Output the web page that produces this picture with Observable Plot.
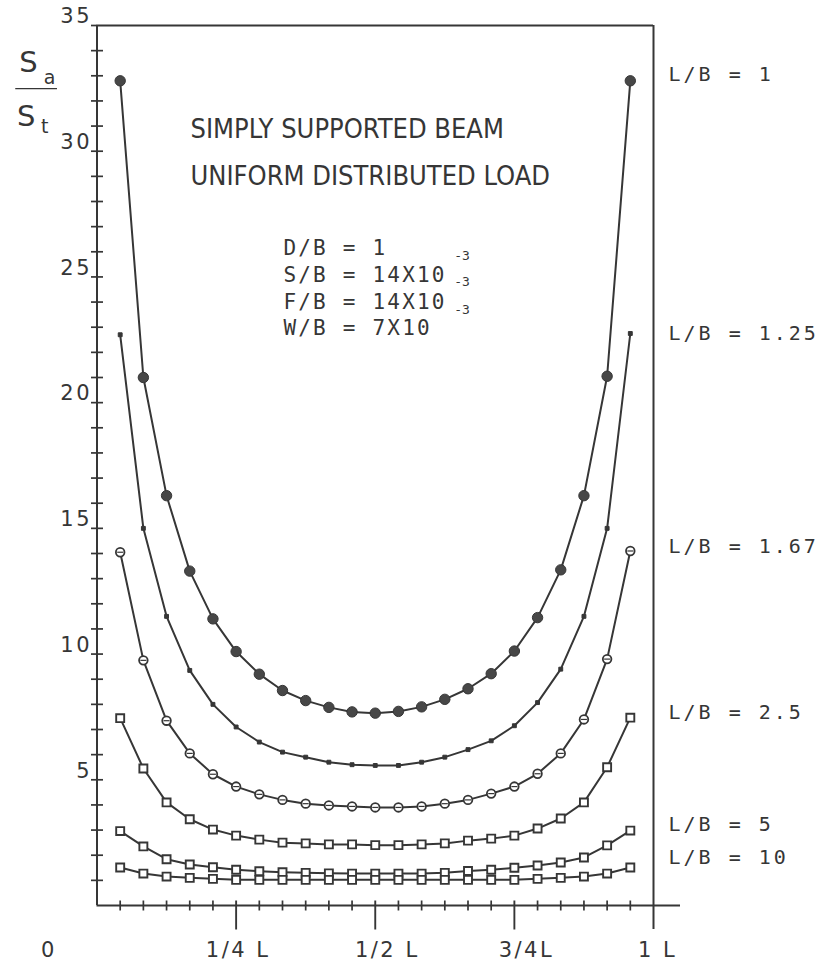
<!DOCTYPE html>
<html>
<head>
<meta charset="utf-8">
<script src="https://cdn.jsdelivr.net/npm/d3@7"></script>
<script src="https://cdn.jsdelivr.net/npm/@observablehq/plot@0.6"></script>
<style>
  html, body { margin: 0; padding: 0; background: #ffffff; }
  #chart svg { display: block; }
</style>
</head>
<body>
<div id="chart"></div>
<script>
// ---- data ----
// stations along the span, in twenty-fourths of L
const stations = [1, 2, 3, 4, 5, 6, 7, 8, 9, 10, 11, 12, 13, 14, 15, 16, 17, 18, 19, 20, 21, 22, 23];
const seriesNames = ["L/B = 1", "L/B = 1.25", "L/B = 1.67", "L/B = 2.5", "L/B = 5", "L/B = 10"];
const lb1   = [32.8, 21.0, 16.3, 13.3, 11.4, 10.1, 9.2, 8.55, 8.15, 7.88, 7.7, 7.65, 7.72, 7.9, 8.2, 8.62, 9.22, 10.12, 11.45, 13.35, 16.3, 21.05, 32.8];
const lb125 = [22.7, 15.0, 11.5, 9.35, 8.0, 7.1, 6.5, 6.1, 5.9, 5.7, 5.6, 5.57, 5.57, 5.7, 5.9, 6.2, 6.55, 7.15, 8.07, 9.4, 11.5, 15.0, 22.75];
const lb167 = [14.05, 9.75, 7.35, 6.05, 5.22, 4.73, 4.42, 4.2, 4.05, 3.98, 3.94, 3.9, 3.9, 3.94, 4.05, 4.2, 4.45, 4.73, 5.24, 6.05, 7.4, 9.8, 14.1];
const lb25  = [7.45, 5.45, 4.1, 3.43, 3.02, 2.78, 2.62, 2.5, 2.47, 2.43, 2.43, 2.4, 2.4, 2.43, 2.47, 2.58, 2.66, 2.78, 3.06, 3.46, 4.1, 5.5, 7.47];
const lb5   = [2.96, 2.35, 1.84, 1.63, 1.52, 1.42, 1.36, 1.32, 1.3, 1.28, 1.27, 1.27, 1.27, 1.27, 1.3, 1.37, 1.42, 1.5, 1.59, 1.71, 1.91, 2.39, 2.98];
const lb10  = [1.51, 1.27, 1.15, 1.1, 1.06, 1.02, 1.02, 1.02, 1.02, 1.02, 1.02, 1.02, 1.02, 1.02, 1.02, 1.02, 1.02, 1.02, 1.06, 1.1, 1.15, 1.27, 1.51];
const seriesValues = [lb1, lb125, lb167, lb25, lb5, lb10];

const yMinorTicks = [1, 2, 3, 4, 5, 6, 7, 8, 9, 10, 11, 12, 13, 14, 15, 16, 17, 18, 19, 20, 21, 22, 23, 24, 25, 26, 27, 28, 29, 30, 31, 32, 33, 34];
const yLabelTicks = [5, 10, 15, 20, 25, 30, 35];
const xMinorTwentyFourths = [1, 2, 3, 4, 5, 7, 8, 9, 10, 11, 13, 14, 15, 16, 17, 19, 20, 21, 22, 23];
const xMajorTicks = [0.25, 0.5, 0.75];
const xLabelTicks = [0, 0.25, 0.5, 0.75, 1];
const xLabels = ["0", "1/4 L", "1/2 L", "3/4L", "1 L"];
const titleLines = ["SIMPLY SUPPORTED BEAM", "UNIFORM DISTRIBUTED LOAD"];
const paramLines = ["D/B = 1", "S/B = 14X10", "F/B = 14X10", "W/B = 7X10"];
const exponent = "-3";

// ---- table for Plot ----
const rows = [];
seriesNames.forEach((name, s) => {
  seriesValues[s].forEach((v, i) => rows.push({series: name, s, x: stations[i] / 24, y: v}));
});
const bySeries = (s) => rows.filter(d => d.s === s);

const ink = "#363636";
const sans = "'DejaVu Sans Condensed','Liberation Sans Narrow','Liberation Sans',sans-serif";
const axisFont = "'DejaVu Sans','Liberation Sans',sans-serif";
const mono = "'DejaVu Sans Mono','Liberation Mono',monospace";

// tick glyphs (axis ticks that cross the axis line)
const dashH = {draw(ctx) { ctx.moveTo(-6, 0); ctx.lineTo(6, 0); }};
const dashV = {draw(ctx) { ctx.moveTo(0, -5); ctx.lineTo(0, 5); }};
const dashVLong = {draw(ctx) { ctx.moveTo(0, -5); ctx.lineTo(0, 24); }};
const dashLeft = {draw(ctx) { ctx.moveTo(-6, 0); ctx.lineTo(0, 0); }};
const bar = {draw(ctx) { ctx.moveTo(-3, 0); ctx.lineTo(3, 0); }};

const labelNudge = [-6, 0, -4, -5, -6, -10];
const xLabelNudge = [-48, 2, 12, 12, 4];

const marks = [
  // frame & axes lines
  Plot.ruleX([0], {stroke: ink, strokeWidth: 2}),
  Plot.ruleY([35], {stroke: ink, strokeWidth: 2}),
  Plot.ruleX([1], {stroke: ink, strokeWidth: 2, insetBottom: -24}),
  Plot.ruleY([0], {stroke: ink, strokeWidth: 2, insetRight: -27}),
  // y ticks crossing the axis
  Plot.dot(yMinorTicks, {x: 0, y: d => d, symbol: dashH, fill: "none", stroke: ink, strokeWidth: 1.7}),
  Plot.dot([35], {x: 0, y: d => d, symbol: dashLeft, fill: "none", stroke: ink, strokeWidth: 1.7}),
  Plot.text(yLabelTicks, {x: 0, y: d => d, text: d => String(d), textAnchor: "end", dx: -5, dy: -9, fontSize: 21, fontFamily: axisFont, fill: ink}),
  // x ticks
  Plot.dot(xMinorTwentyFourths.map(k => k / 24), {x: d => d, y: 0, symbol: dashV, fill: "none", stroke: ink, strokeWidth: 1.7}),
  Plot.dot(xMajorTicks, {x: d => d, y: 0, symbol: dashVLong, fill: "none", stroke: ink, strokeWidth: 1.9}),
  ...xLabels.map((lab, i) => Plot.text([lab], {x: xLabelTicks[i], y: 0, text: d => d, dx: xLabelNudge[i], dy: 45, fontSize: 21, fontFamily: axisFont, fill: ink})),
  // curves
  Plot.line(rows, {x: "x", y: "y", z: "series", stroke: ink, strokeWidth: 2}),
  Plot.dot(bySeries(0), {x: "x", y: "y", r: 5.2, fill: "#474747", stroke: ink, strokeWidth: 1}),
  Plot.dot(bySeries(1), {x: "x", y: "y", r: 2.2, symbol: "square", fill: ink, stroke: ink, strokeWidth: 1}),
  Plot.dot(bySeries(2), {x: "x", y: "y", r: 4.3, fill: "#fff", stroke: ink, strokeWidth: 1.8}),
  Plot.dot(bySeries(2), {x: "x", y: "y", symbol: bar, fill: "none", stroke: ink, strokeWidth: 1.2}),
  Plot.dot(bySeries(3).concat(bySeries(4), bySeries(5)), {x: "x", y: "y", r: 4.5, symbol: "square", fill: "#fff", stroke: ink, strokeWidth: 1.9}),
  // series labels at the right
  ...seriesNames.map((name, s) => Plot.text([bySeries(s)[bySeries(s).length - 1]], {
    x: 1, y: "y", text: () => name, dx: 15, dy: labelNudge[s], textAnchor: "start",
    fontSize: 20, fontFamily: mono, fill: ink
  })),
  // titles
  Plot.text([titleLines[0]], {x: 0.168, y: 30.86, text: d => d, textAnchor: "start", fontSize: 27, fontFamily: sans, fill: ink}),
  Plot.text([titleLines[1]], {x: 0.168, y: 28.99, text: d => d, textAnchor: "start", fontSize: 27, fontFamily: sans, fill: ink}),
  // parameter block
  Plot.text(paramLines, {x: 0.335, y: (d, i) => [26.13, 25.06, 23.98, 22.95][i], text: d => d, textAnchor: "start", fontSize: 21, fontFamily: mono, fill: ink}),
  Plot.text([exponent, exponent, exponent], {x: 0.642, y: (d, i) => [25.85, 24.8, 23.7][i], text: d => d, textAnchor: "start", fontSize: 13, fontFamily: mono, fill: ink}),
  // y-axis label S_a / S_t
  Plot.text(["S"], {x: -0.123, y: 33.53, text: d => d, fontSize: 29, fontFamily: axisFont, fill: ink}),
  Plot.text(["a"], {x: -0.085, y: 32.93, text: d => d, fontSize: 19, fontFamily: axisFont, fill: ink}),
  Plot.ruleY([32.49], {x1: -0.146, x2: -0.071, stroke: ink, strokeWidth: 1.3}),
  Plot.text(["S"], {x: -0.127, y: 31.38, text: d => d, fontSize: 29, fontFamily: axisFont, fill: ink}),
  Plot.text(["t"], {x: -0.094, y: 30.98, text: d => d, fontSize: 19, fontFamily: axisFont, fill: ink})
];

const chart = Plot.plot({
  width: 823,
  height: 971,
  marginLeft: 96.5,
  marginRight: 170,
  marginTop: 25,
  marginBottom: 66,
  x: {domain: [0, 1], axis: null},
  y: {domain: [0, 35], axis: null},
  style: {background: "#ffffff", color: ink, fontFamily: sans, overflow: "visible"},
  marks
});
// plotter-style wide spacing for the monospaced labels and the axis numbers
d3.select(chart).selectAll("g[font-family*='Mono'][font-size='20']").attr("letter-spacing", "3px");
d3.select(chart).selectAll("g[font-family*='Mono'][font-size='21']").attr("letter-spacing", "2.2px");
d3.select(chart).selectAll("g[font-size='21'][font-family^=\"'DejaVu Sans',\"]").attr("letter-spacing", "2.5px");
document.getElementById("chart").append(chart);
</script>
</body>
</html>
